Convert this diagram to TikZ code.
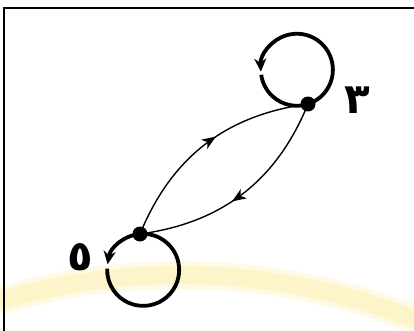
\documentclass[tikz,border=0pt]{standalone}
\usepackage{fontspec}
\usetikzlibrary{arrows.meta,decorations.markings}
\newfontfamily\arabicfont[Script=Arabic]{DejaVu Sans}
\TeXXeTstate=1
\definecolor{washyellow}{RGB}{253,244,202}
\definecolor{washpale}{RGB}{254,250,230}
\tikzset{
  dotnode/.style={circle,fill=black,inner sep=0pt,minimum size=15pt},
  statelabel/.style={font=\arabicfont\bfseries\fontsize{42}{42}\selectfont,inner sep=0pt},
  loopline/.style={line width=3.8pt,black},
  looptip/.style={-{Stealth[length=13pt,width=12pt,inset=4pt]}},
  edgeline/.style={line width=1.4pt,black},
  midarrow/.style={postaction={decorate},decoration={markings,
    mark=at position #1 with {\arrow{Stealth[length=14pt,width=11pt,inset=4pt]}}}}
}
\begin{document}
\begin{tikzpicture}[x=1pt,y=1pt]
\useasboundingbox (0,0) rectangle (414,-331);
\clip (0,0) rectangle (414,-331);
% background wash
\fill[white] (0,0) rectangle (414,-331);
\draw[washpale,line width=28pt] (180,-915) circle[radius=640];
\draw[washyellow,line width=18pt] (180,-915) circle[radius=640];
\draw[washyellow,line width=7pt] (168,-535) circle[radius=200];
% frame
\draw[line width=1.8pt] (4,-340) -- (4,-8) -- (420,-8);
% states
\node[dotnode] (n3) at (308,-104) {};
\node[dotnode] (n5) at (140,-234) {};
\node[statelabel] (l3) at (357,-100) {\beginR ٣\endR};
\node[statelabel] (l5) at (80,-257) {\beginR ٥\endR};
% self loops
\draw[loopline,looptip] (n3.center) arc[start angle=-72,end angle=183,radius=36];
\draw[loopline] (n3.center) arc[start angle=-72,end angle=-172,radius=36];
\draw[loopline,looptip] (n5.center) arc[start angle=95,end angle=171,radius=36];
\draw[loopline] (n5.center) arc[start angle=95,end angle=-182,radius=36];
% transitions
\draw[edgeline,midarrow=0.56] (n5.center) to[bend left=30] (n3.center);
\draw[edgeline,midarrow=0.56] (n3.center) to[bend left=30] (n5.center);
\end{tikzpicture}
\end{document}
